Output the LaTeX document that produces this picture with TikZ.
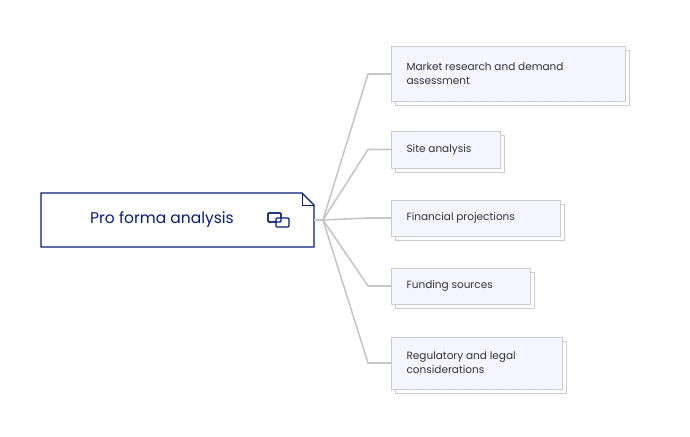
\documentclass[tikz,border=0pt]{standalone}
\usepackage{fontspec}
\setmainfont{Poppins}
\begin{document}
\begin{tikzpicture}[x=1pt,y=-1pt,
 child/.style={draw=black!20,fill=blue!4!white,line width=1pt,align=left,anchor=north west,font=\fontsize{10.5}{14}\selectfont,text=black!80,inner xsep=13pt,inner ysep=0pt},
 shadow/.style={draw=black!20,fill=white,line width=1pt},
 conn/.style={draw=black!22,line width=1.6pt}]
\useasboundingbox (0,0) rectangle (690,436);
\coordinate (hub) at (323,220);
% main
\draw[draw=blue!55!black!90!cyan,line width=1.3pt,fill=white] (41,193) -- (302,193) -- (314,205) -- (314,247) -- (41,247) -- cycle;
\draw[draw=blue!55!black!90!cyan,line width=1pt] (302,193) -- (302,205) -- (314,205);
\node[text=blue!55!black!90!cyan,font=\fontsize{15.5}{18}\selectfont] (main) at (162,220) {Pro forma analysis};
\begin{scope}[draw=blue!55!black!90!cyan,line width=1.2pt]
\draw[rounded corners=1pt] (268,213) rectangle (281,222);
\draw[rounded corners=1pt,fill=white] (276,218) rectangle (289,227);
\draw[rounded corners=1pt] (268,213) rectangle (281,222);
\end{scope}
\draw[conn] (314,220) -- (hub);
% children
\def\mk#1#2#3#4#5#6{%
 \draw[shadow] (#2+4,#3+4) rectangle (#4+4,#5+4);
 \draw[child] (#2,#3) rectangle (#4,#5);
 \node[anchor=west,font=\fontsize{10.5}{14}\selectfont,text=black!80,align=left] (#1) at (#2+12,{(#3+#5)/2}) {#6};
 \coordinate (#1k) at (368,{(#3+#5)/2});
 \draw[conn] (hub) -- (#1k) -- (#2,{(#3+#5)/2});}
\mk{c1}{391}{47}{625}{101}{Market research and demand\\assessment}
\mk{c2}{391}{131}{500}{168}{Site analysis}
\mk{c3}{391}{200}{560}{236}{Financial projections}
\mk{c4}{391}{268}{530}{304}{Funding sources}
\mk{c5}{391}{337}{562}{389}{Regulatory and legal\\considerations}
\end{tikzpicture}
\end{document}
